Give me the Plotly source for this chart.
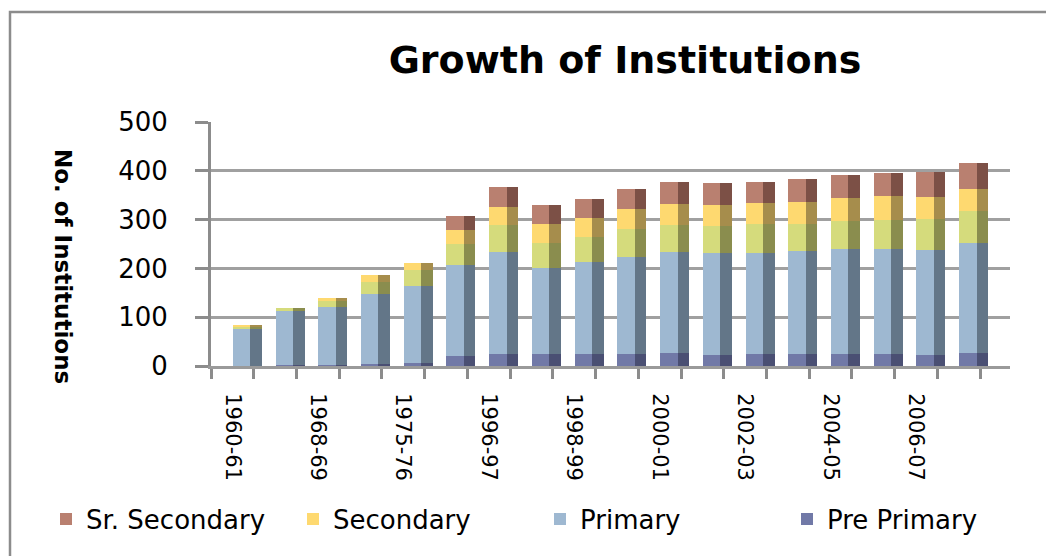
import plotly.graph_objects as go

categories = ["1960-61", "1965-66", "1968-69", "1970-71", "1975-76", "1990-91",
              "1996-97", "1997-98", "1998-99", "1999-00", "2000-01", "2001-02",
              "2002-03", "2003-04", "2004-05", "2005-06", "2006-07", "2007-08"]
pre_primary = [1, 2, 3, 4, 7, 20, 25, 25, 25, 25, 27, 22, 25, 25, 25, 25, 22, 27]
primary = [76, 110, 118, 144, 156, 186, 209, 176, 188, 198, 207, 210, 207, 210, 214, 214, 215, 226]
middle = [4, 7, 12, 24, 34, 45, 54, 51, 51, 57, 54, 54, 58, 57, 58, 61, 65, 64]
secondary = [1, 0, 7, 15, 15, 27, 38, 38, 39, 41, 45, 43, 45, 45, 47, 48, 44, 45]
sr_secondary = [0, 0, 0, 0, 0, 29, 40, 39, 40, 42, 44, 47, 43, 46, 47, 48, 52, 53]

series = [
    ("Pre Primary", pre_primary, "#7179A7", "#4A4F73", True),
    ("Primary", primary, "#9EB8D1", "#637688", True),
    ("Middle", middle, "#D5DB7C", "#8A8D4E", False),
    ("Secondary", secondary, "#FED970", "#A68D4C", True),
    ("Sr. Secondary", sr_secondary, "#B98070", "#7C5046", True),
]
legend_rank = {"Sr. Secondary": 1, "Secondary": 2, "Primary": 3, "Pre Primary": 4, "Middle": 5}

FONT = "DejaVu Sans"
x = list(range(len(categories)))
fig = go.Figure()
base = [0] * len(categories)
for name, vals, front, side, show in series:
    fig.add_trace(go.Bar(
        x=x, y=vals, base=base, name=name, offset=0.01, width=0.41,
        marker=dict(color=front, line=dict(width=0)),
        showlegend=show, legendrank=legend_rank[name]))
    fig.add_trace(go.Bar(
        x=x, y=vals, base=base, name=name + " side", offset=0.42, width=0.27,
        marker=dict(color=side, line=dict(width=0)),
        showlegend=False))
    base = [b + v for b, v in zip(base, vals)]

# page body adds an 8px offset; target screen coordinates are corrected by it
OFF = 8
W, H = 1054, 556
L, R = 211 - OFF, 52
T, B = 122 - OFF, H - (366 - OFF)
pw, ph = W - L - R, H - T - B

def px_x(p):
    return (p - OFF - L) / pw

def px_y(p):
    return (H - B - (p - OFF)) / ph

fig.update_layout(
    width=W, height=H, autosize=False,
    margin=dict(l=L, r=R, t=T, b=B, autoexpand=False),
    barmode="overlay", bargap=0,
    paper_bgcolor="white", plot_bgcolor="white",
    font=dict(family=FONT, color="black"),
    title=dict(text="<b>Growth of Institutions</b>", x=px_x(625), xref="paper",
               xanchor="center", y=1 - (60 - OFF) / H, yref="container", yanchor="middle",
               font=dict(family=FONT, size=38, color="black")),
    legend=dict(orientation="h", x=px_x(46), xanchor="left", y=px_y(519), yanchor="middle",
                font=dict(family=FONT, size=26, color="black"),
                entrywidth=202, entrywidthmode="pixels", traceorder="normal",
                bgcolor="rgba(0,0,0,0)"),
    showlegend=True,
)
fig.update_xaxes(
    automargin=False,
    range=[-0.5, 18.2], tickmode="array", tickvals=x[::2], ticktext=categories[::2],
    tickangle=90, ticks="", ticklabelstandoff=20,
    tickfont=dict(family=FONT, size=21, color="black"),
    showgrid=False, zeroline=False,
    showline=True, linecolor="#9a9a9a", linewidth=3,
    minor=dict(ticks="outside", tickmode="linear", tick0=-0.5, dtick=1,
               ticklen=10, tickwidth=3, tickcolor="#8c8c8c", showgrid=False),
)
fig.update_yaxes(
    automargin=False,
    range=[0, 500], tickmode="array", tickvals=[0, 100, 200, 300, 400, 500],
    ticks="outside", ticklen=13, tickwidth=3, tickcolor="#8c8c8c",
    ticklabelstandoff=22, tickfont=dict(family=FONT, size=26, color="black"),
    showgrid=True, gridcolor="#a0a0a0", gridwidth=2.5, zeroline=False,
    showline=True, linecolor="#8c8c8c", linewidth=3,
)
fig.add_annotation(
    text="<b>No. of Institutions</b>", textangle=90, showarrow=False,
    xref="paper", yref="paper", x=px_x(63), y=px_y(266),
    xanchor="center", yanchor="middle",
    font=dict(family=FONT, size=23, color="black"))
fig.add_shape(type="rect", xref="paper", yref="paper",
              x0=px_x(10), x1=px_x(1075), y0=px_y(580), y1=px_y(12),
              line=dict(color="#8c8c8c", width=2.5), fillcolor="rgba(0,0,0,0)",
              layer="below")

fig.write_html("out.html")
